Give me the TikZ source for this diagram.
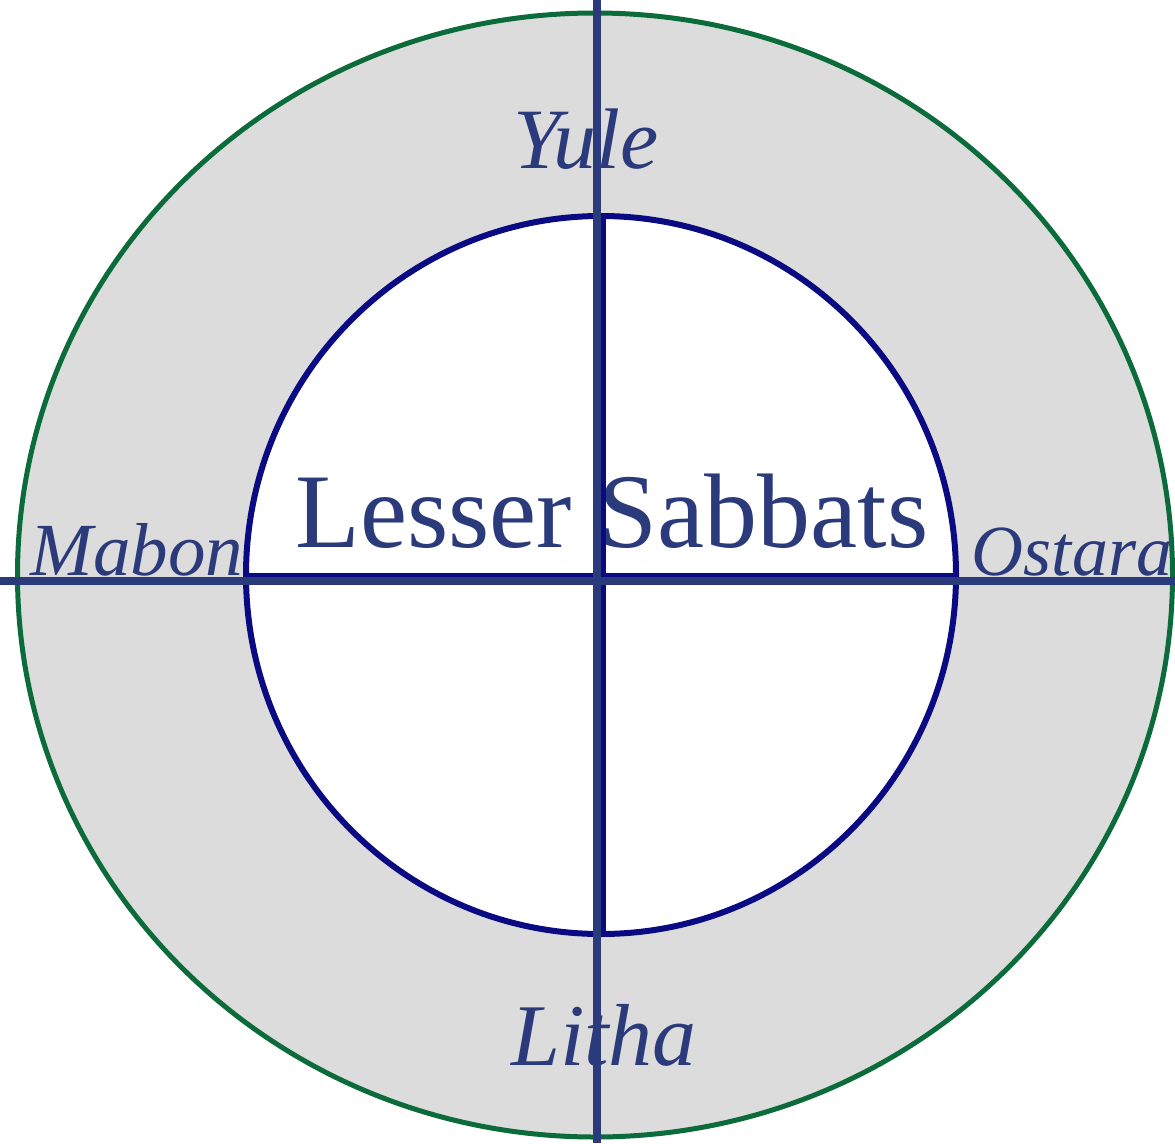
\documentclass[tikz,border=0pt]{standalone}
\usepackage{fontspec}
\setmainfont{Liberation Serif}
\definecolor{txtblue}{HTML}{2B3A7A}
\definecolor{navy}{HTML}{0A0A82}
\definecolor{ringgreen}{HTML}{0B6B3A}
\definecolor{ringgray}{HTML}{DCDCDC}
\tikzset{
  lbl/.style={text=txtblue, inner sep=0pt, anchor=base, font=\itshape},
  blueline/.style={draw=txtblue, line width=8pt},
  navyline/.style={draw=navy, line width=5pt},
}
\begin{document}
\begin{tikzpicture}[x=1pt,y=-1pt]
\useasboundingbox (0,0) rectangle (1175,1143);
% rings
\fill[ringgray] (595,575) ellipse [x radius=577.5, y radius=562];
\fill[white] (601,575) ellipse [x radius=355, y radius=359];
\draw[ringgreen, line width=5pt] (595,575) ellipse [x radius=577.5, y radius=562];
\draw[navy, line width=6pt] (601,575) ellipse [x radius=355, y radius=359];
% labels
\node[lbl, font=\itshape\fontsize{86}{86}\selectfont] (yule) at (586,168) {Yule};
\node[lbl, font=\itshape\fontsize{88}{88}\selectfont] (litha) at (604,1065) {Litha};
\node[lbl, font=\itshape\fontsize{75}{75}\selectfont] (mabon) at (137,575) {Mabon};
\node[lbl, font=\itshape\fontsize{72}{72}\selectfont] (ostara) at (1072,575) {Ostara};
\node[text=txtblue, inner sep=0pt, anchor=base, font=\fontsize{106}{106}\selectfont] (lesser) at (612,547) {Lesser Sabbats};
% coordinates for the cross
\coordinate (ntop) at (603,216);
\coordinate (nbot) at (603,934);
\coordinate (nleft) at (246,575);
\coordinate (nright) at (956,575);
\coordinate (btop) at (597,0);
\coordinate (bbot) at (597,1143);
\coordinate (bleft) at (0,581);
\coordinate (bright) at (1175,581);
% inner navy cross
\draw[navyline] (ntop) -- (nbot);
\draw[navyline] (nleft) -- (nright);
% full blue cross
\draw[blueline] (btop) -- (bbot);
\draw[blueline] (bleft) -- (bright);
\end{tikzpicture}
\end{document}
